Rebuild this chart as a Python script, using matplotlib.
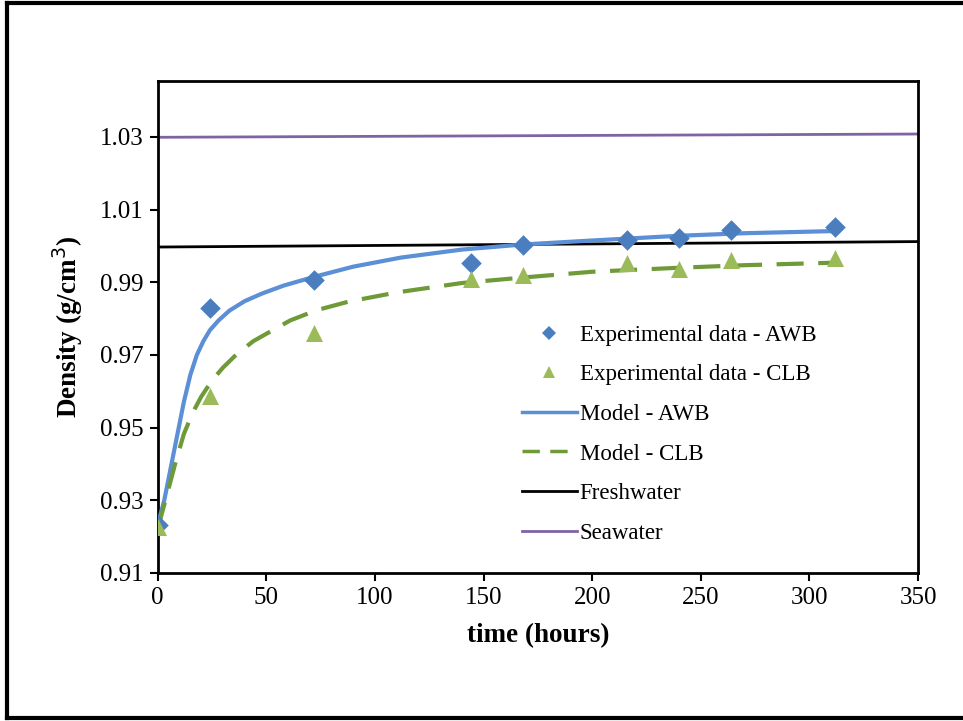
import matplotlib
matplotlib.use("Agg")
import matplotlib.pyplot as plt
from matplotlib.lines import Line2D

# Experimental data
t_exp = [0, 24, 72, 144, 168, 216, 240, 264, 312]
awb_exp = [0.9232, 0.9829, 0.9905, 0.9952, 1.0003, 1.0015, 1.0022, 1.0043, 1.0052]
clb_exp = [0.9226, 0.9587, 0.9760, 0.9908, 0.9919, 0.9954, 0.9937, 0.9962, 0.9967]

# Model curves
t_awb_model = [0, 3, 6, 9, 12, 15, 18, 21, 24, 28, 33, 40, 48, 58, 72, 90, 112,
               140, 168, 200, 240, 270, 312]
awb_model = [0.9232, 0.9300, 0.9390, 0.9480, 0.9570, 0.9645, 0.9700, 0.9738, 0.9768,
             0.9795, 0.9822, 0.9848, 0.9869, 0.9891, 0.9915, 0.9943, 0.9968, 0.9990,
             1.0004, 1.0015, 1.0028, 1.0035, 1.0041]
t_clb_model = [0, 4, 8, 12, 16, 20, 25, 30, 36, 44, 52, 61, 73, 88, 110, 140, 168,
               200, 240, 270, 312]
clb_model = [0.9222, 0.9310, 0.9400, 0.9482, 0.9540, 0.9585, 0.9630, 0.9665, 0.9700,
             0.9738, 0.9765, 0.9795, 0.9823, 0.9847, 0.9872, 0.9898, 0.9913, 0.9929,
             0.9940, 0.9947, 0.9954]

# Reference lines
t_ref = [0, 350]
freshwater = [0.9997, 1.0012]
seawater = [1.0299, 1.0308]

plt.rcParams['font.family'] = ['Liberation Serif', 'DejaVu Serif']

fig = plt.figure(figsize=(9.63, 7.21), dpi=100)
ax = fig.add_axes([0.1638, 0.2053, 0.9533 - 0.1638, 0.8877 - 0.2053])

c_blue = '#4a7ebf'
c_line_blue = '#5b8fd6'
c_green_m = '#9bbb59'
c_green_l = '#6e9a38'
c_purple = '#8064a2'

ax.plot(t_ref, seawater, color=c_purple, lw=2, zorder=2)
ax.plot(t_ref, freshwater, color='black', lw=2, zorder=2)
ax.plot(t_awb_model, awb_model, color=c_line_blue, lw=3, zorder=3,
        solid_joinstyle='round')
ax.plot(t_clb_model, clb_model, color=c_green_l, lw=3, dashes=(6.5, 3.5), zorder=3)
ax.scatter(t_exp, awb_exp, marker='D', s=110, color=c_blue, zorder=4, linewidths=0)
ax.scatter(t_exp, clb_exp, marker='^', s=150, color=c_green_m, zorder=4, linewidths=0)

ax.set_xlim(0, 350)
ax.set_ylim(0.91, 1.0454)
ax.set_xticks(range(0, 351, 50))
ax.set_yticks([0.91, 0.93, 0.95, 0.97, 0.99, 1.01, 1.03])
ax.set_yticklabels(['0.91', '0.93', '0.95', '0.97', '0.99', '1.01', '1.03'])
ax.tick_params(axis='both', direction='out', length=6, width=1.5, labelsize=18,
               top=False, right=False, pad=4)
for s in ax.spines.values():
    s.set_linewidth(2)

ax.set_xlabel('time (hours)', fontsize=19.5, fontweight='bold', labelpad=10)
ax.set_ylabel('Density (g/cm$^3$)', fontsize=19.5, fontweight='bold', labelpad=11)

handles = [
    Line2D([], [], ls='none', marker='D', ms=7, color=c_blue, markeredgewidth=0),
    Line2D([], [], ls='none', marker='^', ms=9, color=c_green_m, markeredgewidth=0),
    Line2D([], [], color=c_line_blue, lw=2.5),
    Line2D([], [], color=c_green_l, lw=2.5, dashes=(5, 3)),
    Line2D([], [], color='black', lw=2),
    Line2D([], [], color=c_purple, lw=2),
]
labels = ['Experimental data - AWB', 'Experimental data - CLB', 'Model - AWB',
          'Model - CLB', 'Freshwater', 'Seawater']
ax.legend(handles, labels, loc='upper left', bbox_to_anchor=(0.4635, 0.528),
          frameon=False, fontsize=16.5, handlelength=2.4, handletextpad=0.13,
          labelspacing=0.81, borderpad=0)

# outer frame
for (x0, y0, x1, y1) in [(7 / 963, 3 / 721, 7 / 963, 718 / 721),
                         (7 / 963, 718 / 721, 1.0, 718 / 721),
                         (7 / 963, 3 / 721, 1.0, 3 / 721)]:
    fig.add_artist(Line2D([x0, x1], [y0, y1], color='black', lw=3,
                          transform=fig.transFigure))

fig.savefig('out.png', dpi=100)
